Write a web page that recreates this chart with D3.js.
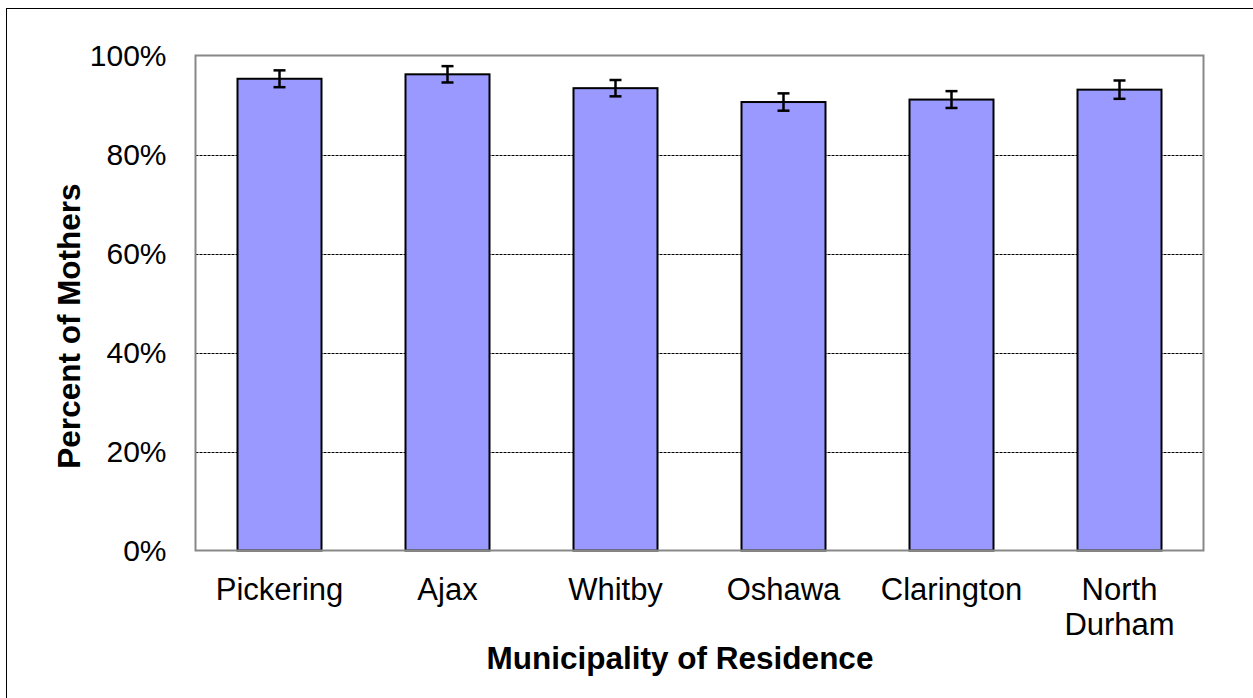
<!DOCTYPE html>
<html>
<head>
<meta charset="utf-8">
<script src="https://cdn.jsdelivr.net/npm/d3@7/dist/d3.min.js"></script>
<style>
  html, body { margin: 0; padding: 0; background: #fff; }
  svg { display: block; }
  text { font-family: "Liberation Sans", Arial, sans-serif; fill: #000; }
</style>
</head>
<body>
<svg id="chart" width="1253" height="698"></svg>
<script>
const categories = ["Pickering", "Ajax", "Whitby", "Oshawa", "Clarington", "North Durham"];
const values = [95.3, 96.2, 93.4, 90.6, 91.1, 93.1];
const errors = [1.7, 1.65, 1.65, 1.75, 1.7, 1.85];
const yTicks = [0, 20, 40, 60, 80, 100];
const xTitle = "Municipality of Residence";
const yTitle = "Percent of Mothers";

const svg = d3.select("#chart");
const plot = { left: 195.5, right: 1203.5, top: 55.5, bottom: 550.5 };

// outer chart border
svg.append("rect")
  .attr("x", 6.5).attr("y", 8.5)
  .attr("width", 1300).attr("height", 750)
  .attr("fill", "#fff").attr("stroke", "#000").attr("stroke-width", 1);

const x = d3.scaleBand().domain(categories)
  .range([plot.left, plot.right]).paddingInner(0.5).paddingOuter(0.25);
const y = d3.scaleLinear().domain([0, 100]).range([plot.bottom, plot.top]);

// gridlines
svg.append("g").selectAll("line")
  .data(yTicks.filter(t => t > 0 && t < 100))
  .join("line")
  .attr("x1", plot.left).attr("x2", plot.right)
  .attr("y1", d => Math.round(y(d)) + 0.5).attr("y2", d => Math.round(y(d)) + 0.5)
  .attr("stroke", "#000").attr("stroke-width", 1).attr("stroke-dasharray", "3,1");

// bars
svg.append("g").selectAll("rect")
  .data(categories)
  .join("rect")
  .attr("x", d => x(d))
  .attr("width", x.bandwidth())
  .attr("y", (d, i) => y(values[i]))
  .attr("height", (d, i) => y(0) - y(values[i]))
  .attr("fill", "#9999FF").attr("stroke", "#000").attr("stroke-width", 2);

// error bars
const eb = svg.append("g").attr("stroke", "#000").attr("stroke-width", 2.5);
categories.forEach((c, i) => {
  const cx = x(c) + x.bandwidth() / 2;
  const hi = y(values[i] + errors[i]), lo = y(values[i] - errors[i]);
  eb.append("line").attr("x1", cx).attr("x2", cx).attr("y1", hi).attr("y2", lo);
  eb.append("line").attr("x1", cx - 6).attr("x2", cx + 6).attr("y1", hi).attr("y2", hi);
  eb.append("line").attr("x1", cx - 6).attr("x2", cx + 6).attr("y1", lo).attr("y2", lo);
});

// plot border
svg.append("rect")
  .attr("x", plot.left).attr("y", plot.top)
  .attr("width", plot.right - plot.left).attr("height", plot.bottom - plot.top)
  .attr("fill", "none").attr("stroke", "#888").attr("stroke-width", 2);

// y axis labels
const yAxis = d3.axisLeft(y).tickValues(yTicks).tickSize(0).tickPadding(29)
  .tickFormat(d => d + "%");
const gy = svg.append("g").attr("transform", `translate(${plot.left},0)`).call(yAxis);
gy.select(".domain").remove();
gy.selectAll("text").style("font-size", "30px").attr("fill", "#000")
  .attr("font-family", "Liberation Sans, Arial, sans-serif");

// x axis labels
const xAxis = d3.axisBottom(x).tickSize(0).tickPadding(0);
const gx = svg.append("g").attr("transform", `translate(0,${plot.bottom})`).call(xAxis);
gx.select(".domain").remove();
gx.selectAll("text").remove();
gx.selectAll(".tick").each(function(d) {
  const words = d === "North Durham" ? ["North", "Durham"] : [d];
  const t = d3.select(this).append("text")
    .attr("text-anchor", "middle").attr("fill", "#000")
    .style("font-size", "31px")
    .attr("font-family", "Liberation Sans, Arial, sans-serif");
  words.forEach((w, k) => {
    t.append("tspan").attr("x", 0).attr("y", 49 + k * 35).text(w);
  });
});

// titles
svg.append("text")
  .attr("x", 680).attr("y", 669)
  .attr("text-anchor", "middle")
  .style("font-size", "31.5px").style("font-weight", "bold")
  .text(xTitle);

svg.append("text")
  .attr("transform", "translate(80,326) rotate(-90)")
  .attr("text-anchor", "middle")
  .style("font-size", "31.5px").style("font-weight", "bold")
  .text(yTitle);
</script>
</body>
</html>
